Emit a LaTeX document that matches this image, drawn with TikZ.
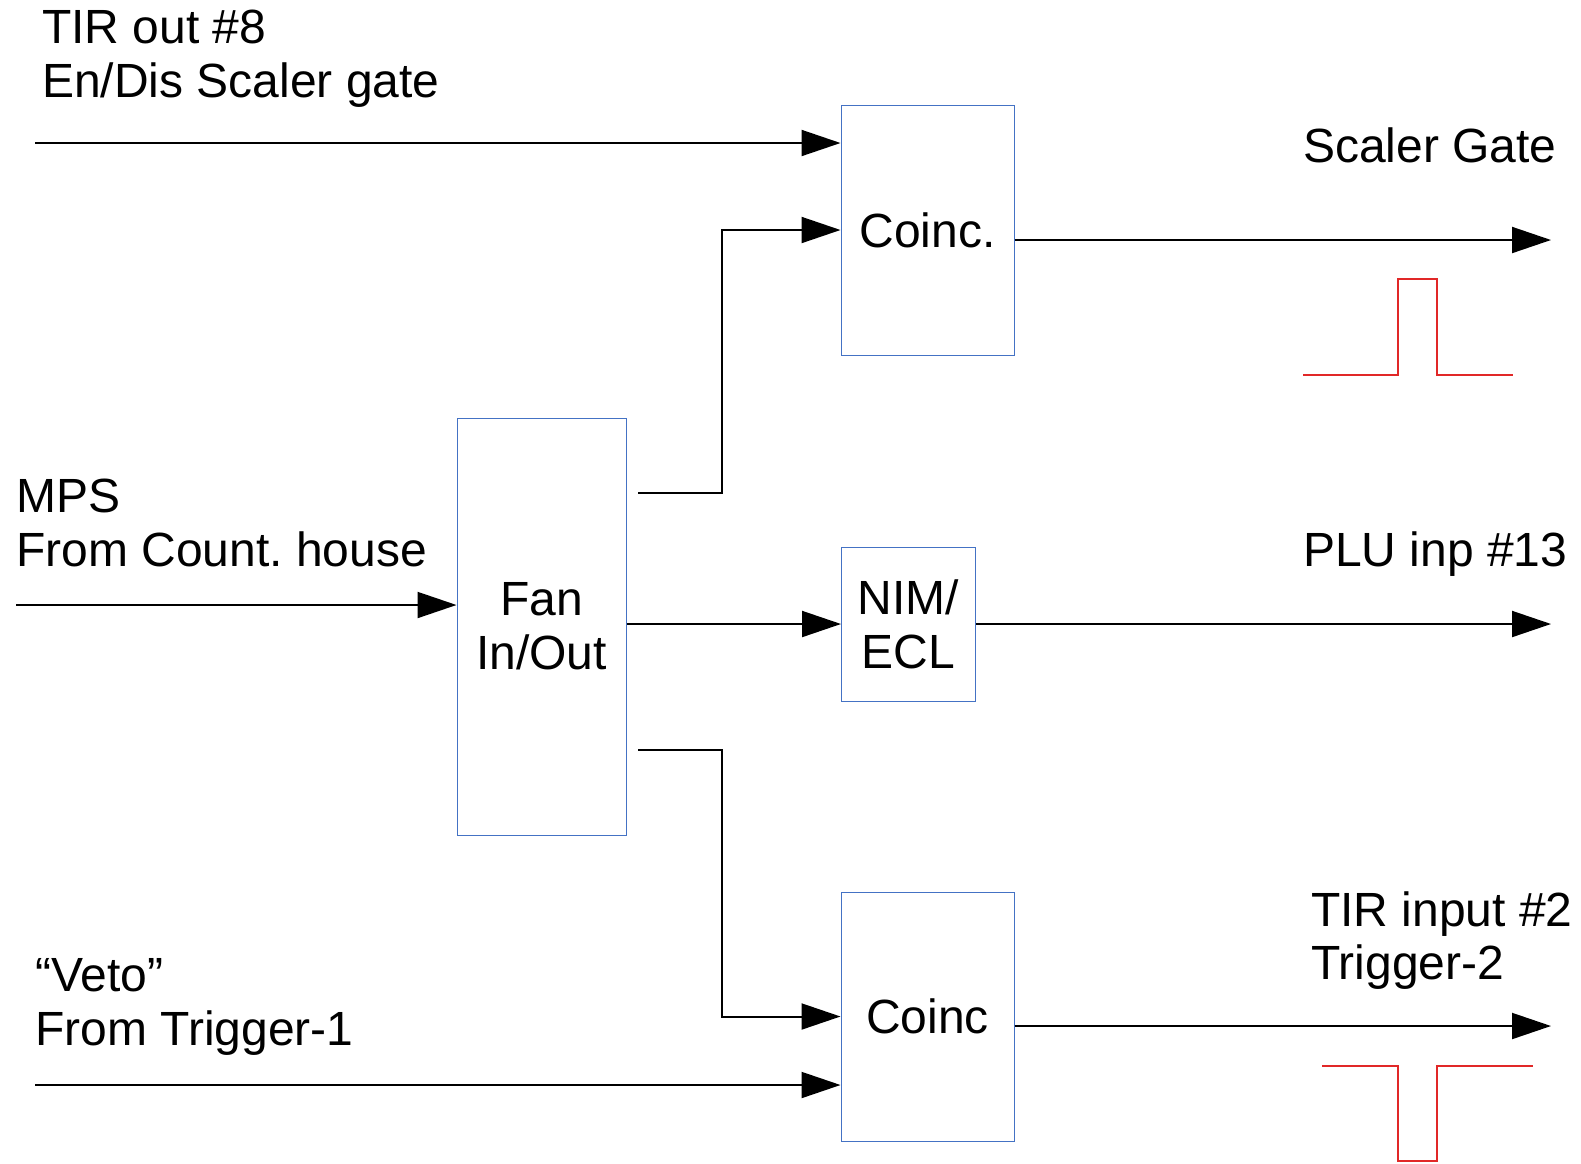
\documentclass[tikz,border=0pt]{standalone}
\usepackage{fontspec}
\setmainfont{Liberation Sans}
\usetikzlibrary{arrows.meta}
\definecolor{boxblue}{RGB}{68,114,196}
\definecolor{pulsered}{RGB}{225,40,40}
\frenchspacing
\begin{document}
\begin{tikzpicture}[x=1pt,y=-1pt,
  every node/.style={font=\fontsize{48}{54}\selectfont, inner sep=0pt},
  blk/.style={draw=boxblue, line width=1pt, align=center},
  lbl/.style={anchor=base west},
  sig/.style={line width=2pt, -{Triangle[length=39pt,width=26pt]}},
  wire/.style={line width=2pt},
  pulse/.style={draw=pulsered, line width=1.6pt}]
\useasboundingbox (0,0) rectangle (1581,1163);
% boxes
\node[blk, minimum width=173pt, minimum height=250pt] (c1) at (927.5,230) {Coinc.};
\node[blk, minimum width=169pt, minimum height=417pt] (fan) at (541.5,626.5) {Fan\\In/Out};
\node[blk, minimum width=134pt, minimum height=154pt] (nim) at (908.5,624) {NIM/\\ECL};
\node[blk, minimum width=173pt, minimum height=249pt] (c2) at (927.5,1016.5) {\raisebox{-3pt}{Coinc}};
% labels
\node[lbl] (t1a) at (42,43) {TIR out \#8};
\node[lbl] (t1b) at (42,97) {En/Dis Scaler gate};
\node[lbl] (t2a) at (16,512) {MPS};
\node[lbl] (t2b) at (16,566) {From Count.\ house};
\node[lbl] (t3a) at (35,991) {“Veto”};
\node[lbl] (t3b) at (35,1045) {From Trigger-1};
\node[lbl] (o1l) at (1303,162) {Scaler Gate};
\node[lbl] (o2l) at (1303,566) {PLU inp \#13};
\node[lbl] (o3a) at (1311,926) {TIR input \#2};
\node[lbl] (o3b) at (1311,979) {Trigger-2};
% coordinates
\coordinate (in1) at (35,143);
\coordinate (in2) at (16,605);
\coordinate (in3) at (35,1085);
\coordinate (b1) at (638,493);
\coordinate (b2) at (638,750);
\coordinate (o1) at (1551,240);
\coordinate (o2) at (1551,624);
\coordinate (o3) at (1551,1026);
% connectors
\draw[sig] (in1) -- (c1.west |- in1);
\draw[sig] (b1) -- (722,493) |- (c1.west);
\draw[sig] (in2) -- (fan.west |- in2);
\draw[sig] (fan.east |- nim.west) -- (nim.west);
\draw[sig] (b2) -- (722,750) |- (c2.west);
\draw[sig] (in3) -- (c2.west |- in3);
\draw[sig] (c1.east |- o1) -- (o1);
\draw[sig] (nim.east |- o2) -- (o2);
\draw[sig] (c2.east |- o3) -- (o3);
% pulses
\draw[pulse] (1303,375) -- (1398,375) -- (1398,279) -- (1437,279) -- (1437,375) -- (1513,375);
\draw[pulse] (1322,1066) -- (1398,1066) -- (1398,1161) -- (1437,1161) -- (1437,1066) -- (1533,1066);
\end{tikzpicture}
\end{document}
